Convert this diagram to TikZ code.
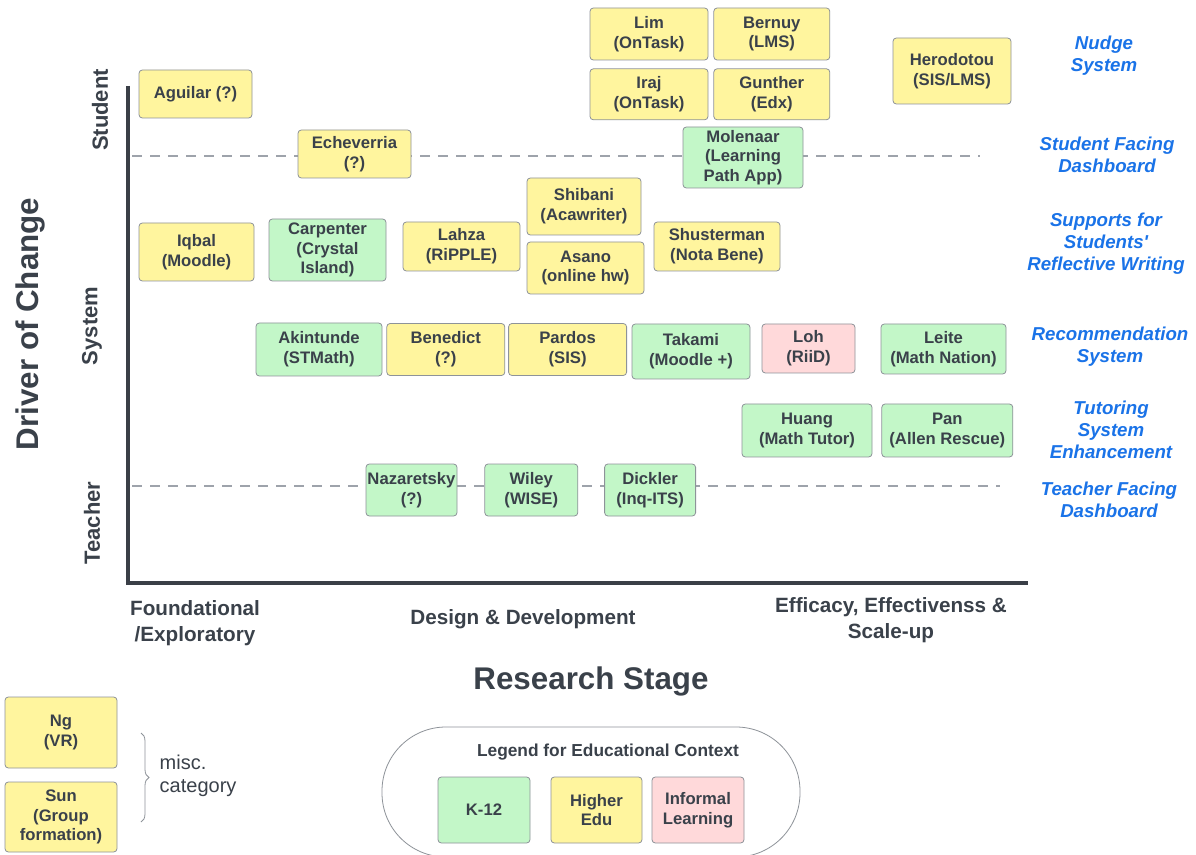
\documentclass[tikz,border=0pt]{standalone}
\usepackage{fontspec}
\setmainfont{Liberation Sans}
\usepackage{xcolor}
\usetikzlibrary{positioning,decorations.pathreplacing}

\definecolor{ink}{HTML}{3A414A}
\definecolor{tileline}{HTML}{8E9399}
\definecolor{hiedfill}{HTML}{FFF59E}
\definecolor{ktwfill}{HTML}{C3F7C8}
\definecolor{inflfill}{HTML}{FFD9DA}
\definecolor{catblue}{HTML}{1A73E8}
\definecolor{guidegray}{HTML}{9EA3AB}
\definecolor{axisdark}{HTML}{3A3F47}

\tikzset{
  tile/.style={draw=tileline,line width=0.6pt,rounded corners=2.5pt,text=ink,align=center,inner sep=1pt,font=\bfseries\fontsize{12.5}{14.8}\selectfont},
  hied/.style={tile,fill=hiedfill},
  ktw/.style={tile,fill=ktwfill},
  infl/.style={tile,fill=inflfill},
  sz/.style 2 args={minimum width=#1*0.75pt,minimum height=#2*0.75pt},
  cat/.style={text=catblue,align=center,font=\bfseries\itshape\fontsize{14}{16.5}\selectfont},
  guide/.style={draw=guidegray,line width=1.5pt,dash pattern=on 7.5pt off 6pt},
  axislabel/.style={text=ink,align=center,font=\bfseries\fontsize{15.5}{19.5}\selectfont},
  driver/.style={text=ink,rotate=90,font=\bfseries\fontsize{16.5}{19}\selectfont},
}

\begin{document}
\begin{tikzpicture}[x=0.75pt,y=-0.75pt]

\path[use as bounding box,fill=white] (0,0) rectangle (1196,855);

% axes and guide lines
\coordinate (axtop) at (128,86);
\coordinate (origin) at (128,583);
\coordinate (axstart) at (126,583);
\coordinate (axend) at (1028,583);
\coordinate (sfdL) at (132,156);
\coordinate (sfdR) at (980,156);
\coordinate (tfdL) at (132,486);
\coordinate (tfdR) at (1000,486);

\draw[guide] (sfdL) -- (sfdR);
\draw[guide] (tfdL) -- (tfdR);
\draw[axisdark,line width=3pt] (axtop) -- (origin);
\draw[axisdark,line width=3pt] (axstart) -- (axend);

\node[driver] (student) at (100,110) {Student};
\node[driver] (system) at (92,326) {System};
\node[driver] (teacher) at (92,523) {Teacher};
\node[text=ink,rotate=90,font=\bfseries\fontsize{23.5}{26}\selectfont] (drvchange) at (30,324) {Driver of Change};

\node[axislabel] (foundational) at (195,623) {Foundational\\/Exploratory};
\node[axislabel] (design) at (523,619) {Design \& Development};
\node[axislabel] (efficacy) at (891,620) {Efficacy, Effectivenss \&\\Scale-up};
\node[text=ink,font=\bfseries\fontsize{23.5}{26}\selectfont] (researchstage) at (591,681) {Research Stage};

% nudge system
\node[hied,sz={118}{52}] (lim) at (649,34) {Lim\\(OnTask)};
\node[hied,sz={116}{52},right=3.75pt of lim] (bernuy) {Bernuy\\(LMS)};
\node[hied,sz={118}{51},below=6pt of lim] (iraj) {Iraj\\(OnTask)};
\node[hied,sz={116}{51},right=3.75pt of iraj] (gunther) {Gunther\\(Edx)};
\node[hied,sz={118}{66}] (herodotou) at (952,71) {Herodotou\\(SIS/LMS)};
\node[hied,sz={113}{48}] (aguilar) at (195.5,94) {Aguilar (?)};

% student facing dashboard
\node[hied,sz={113}{48}] (echeverria) at (354.5,154) {Echeverria\\(?)};
\node[ktw,sz={120}{61}] (molenaar) at (743,157.5) {Molenaar\\(Learning\\Path App)};

% reflective writing
\node[hied,sz={114}{57}] (shibani) at (584,206.5) {Shibani\\(Acawriter)};
\node[hied,sz={115}{58}] (iqbal) at (196.5,252) {Iqbal\\(Moodle)};
\node[ktw,sz={117}{62}] (carpenter) at (327.5,250) {Carpenter\\(Crystal\\Island)};
\node[hied,sz={117}{49}] (lahza) at (461.5,246.5) {Lahza\\(RiPPLE)};
\node[hied,sz={117}{52}] (asano) at (585.5,268) {Asano\\(online hw)};
\node[hied,sz={126}{49}] (shusterman) at (717,246.5) {Shusterman\\(Nota Bene)};

% recommendation system
\node[ktw,sz={126}{53}] (akintunde) at (319,349.5) {Akintunde\\(STMath)};
\node[hied,sz={118}{52},right=3pt of akintunde] (benedict) {Benedict\\(?)};
\node[hied,sz={118}{52},right=2.25pt of benedict] (pardos) {Pardos\\(SIS)};
\node[ktw,sz={118}{55}] (takami) at (691,351.5) {Takami\\(Moodle +)};
\node[infl,sz={93}{49}] (loh) at (808.5,348.5) {Loh\\(RiiD)};
\node[ktw,sz={125}{50}] (leite) at (943.5,349) {Leite\\(Math Nation)};

% tutoring system
\node[ktw,sz={130}{53}] (huang) at (807,430.5) {Huang\\(Math Tutor)};
\node[ktw,sz={131}{53},right=6.75pt of huang] (pan) {Pan\\(Allen Rescue)};

% teacher facing dashboard
\node[ktw,sz={91}{52}] (nazaretsky) at (411.5,490) {Nazaretsky\\(?)};
\node[ktw,sz={93}{52},right=20.25pt of nazaretsky] (wiley) {Wiley\\(WISE)};
\node[ktw,sz={91}{52},right=19.5pt of wiley] (dickler) {Dickler\\(Inq-ITS)};

% categories
\node[cat] (catnudge) at (1104,56) {Nudge\\System};
\node[cat] (catsfd) at (1107,155) {Student Facing\\Dashboard};
\node[cat] (catwriting) at (1106,244) {Supports for\\Students\textquotesingle\\Reflective Writing};
\node[cat] (catrec) at (1110,347) {Recommendation\\System};
\node[cat] (cattutor) at (1111,430) {Tutoring\\System\\Enhancement};
\node[cat] (cattfd) at (1109,500) {Teacher Facing\\Dashboard};

% misc
\node[hied,sz={112}{71}] (ng) at (61,732.5) {Ng\\(VR)};
\node[hied,sz={112}{70}] (sun) at (61,817) {Sun\\(Group\\formation)};
\coordinate (bracetop) at (141,733);
\coordinate (bracebot) at (141,822);
\draw[draw=tileline,line width=0.6pt,decorate,decoration={brace,amplitude=6pt}] (bracetop) -- (bracebot);
\node[anchor=west,text=ink,align=left,font=\fontsize{15}{17.25}\selectfont] (misc) at (155,776) {misc.\\category};

% legend
\node[draw=tileline,line width=0.6pt,rounded corners=48pt,sz={418}{130}] (legend) at (591,792) {};
\node[text=ink,font=\bfseries\fontsize{13}{15}\selectfont] (legendtitle) at (608,752) {Legend for Educational Context};
\node[ktw,sz={92}{66}] (lgk) at (484,810) {K-12};
\node[hied,sz={91}{66}] (lghe) at (596.5,810) {Higher\\Edu};
\node[infl,sz={92}{66}] (lgil) at (698,810) {Informal\\Learning};

\end{tikzpicture}
\end{document}
